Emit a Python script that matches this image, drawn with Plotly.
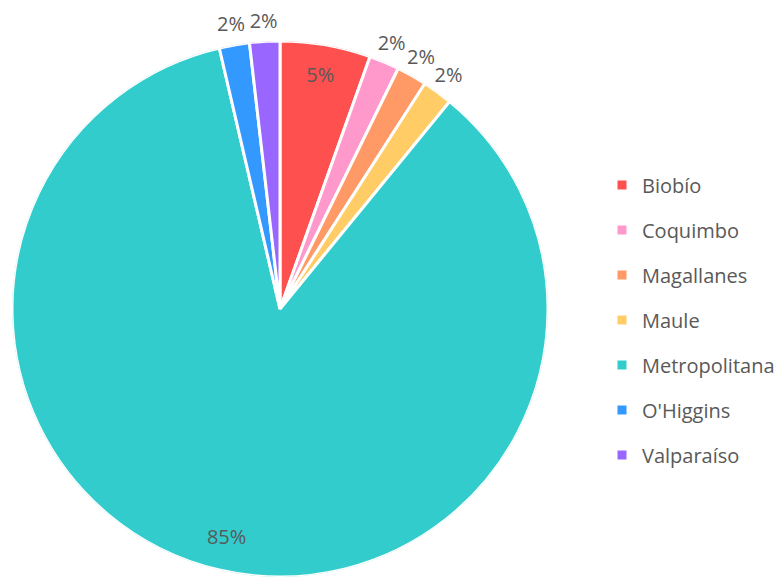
import math
import plotly.graph_objects as go

# Data
regions = ["Biobío", "Coquimbo", "Magallanes", "Maule", "Metropolitana", "O'Higgins", "Valparaíso"]
counts = [3, 1, 1, 1, 47, 1, 1]
colors = ["#FF5050", "#FF99CC", "#FF9966", "#FFCC66", "#33CCCC", "#3399FF", "#9966FF"]

TEXT = "#595959"
FONT = "Open Sans, sans-serif"
W, H = 784, 577
OFF = 8  # page body margin shifts the figure by 8px

# pie geometry in figure pixels
CX, CY, RAD = 280 - OFF, 309 - OFF, 268

total = sum(counts)
widths = [c / total * 360 for c in counts]
mids = []
acc = 0
for w in widths:
    mids.append(acc + w / 2)
    acc += w
pct = [f"{round(100 * c / total)}%" for c in counts]
inside = [c > 2 for c in counts]

fig = go.Figure()
for name, col, th, w in zip(regions, colors, mids, widths):
    fig.add_trace(go.Barpolar(
        r=[1], theta=[th], width=[w], base=0,
        name=name, legendgroup=name,
        marker=dict(color=col, line=dict(color="white", width=3)),
    ))

# labels of the big slices, inside near the rim
fig.add_trace(go.Scatterpolar(
    r=[0.88 for k in inside if k],
    theta=[t for t, k in zip(mids, inside) if k],
    text=[p for p, k in zip(pct, inside) if k],
    mode="text", textposition="middle center",
    textfont=dict(size=20, color=TEXT, family=FONT),
    cliponaxis=False, showlegend=False, hoverinfo="skip",
    subplot="polar",
))

# labels of the small slices, just outside the rim (own, wider polar frame)
RMAX2 = 1.12
SECTOR = [40, 125]
R2 = RMAX2 * RAD
bx0 = min(math.cos(math.radians(a)) for a in SECTOR)
bx1 = max(math.cos(math.radians(a)) for a in SECTOR)
fig.add_trace(go.Scatterpolar(
    r=[1.07 for k in inside if not k],
    theta=[t for t, k in zip(mids, inside) if not k],
    text=[p for p, k in zip(pct, inside) if not k],
    mode="text", textposition="middle center",
    textfont=dict(size=20, color=TEXT, family=FONT),
    cliponaxis=False, showlegend=False, hoverinfo="skip",
    subplot="polar2",
))

hidden_angular = dict(rotation=90, direction="clockwise", visible=False)

fig.update_layout(
    template="none",
    width=W, height=H,
    margin=dict(l=0, r=0, t=0, b=0, autoexpand=False),
    paper_bgcolor="white",
    font=dict(family=FONT, color=TEXT, size=20),
    polar=dict(
        domain=dict(x=[(CX - RAD) / W, (CX + RAD) / W],
                    y=[1 - (CY + RAD) / H, 1 - (CY - RAD) / H]),
        bgcolor="white",
        bargap=0,
        hole=0,
        radialaxis=dict(range=[0, 1], visible=False),
        angularaxis=hidden_angular,
    ),
    polar2=dict(
        domain=dict(x=[(CX + bx0 * R2) / W, (CX + bx1 * R2) / W],
                    y=[1 - CY / H, 1 - (CY - R2) / H]),
        sector=SECTOR,
        bgcolor="rgba(0,0,0,0)",
        radialaxis=dict(range=[0, RMAX2], visible=False),
        angularaxis=hidden_angular,
    ),
    legend=dict(
        x=(602 - OFF) / W, xanchor="left",
        y=1 - (320 - OFF) / H, yanchor="middle",
        tracegroupgap=16,
        font=dict(size=20, color=TEXT, family=FONT),
        bgcolor="rgba(0,0,0,0)",
    ),
)

fig.write_html("out.html")
